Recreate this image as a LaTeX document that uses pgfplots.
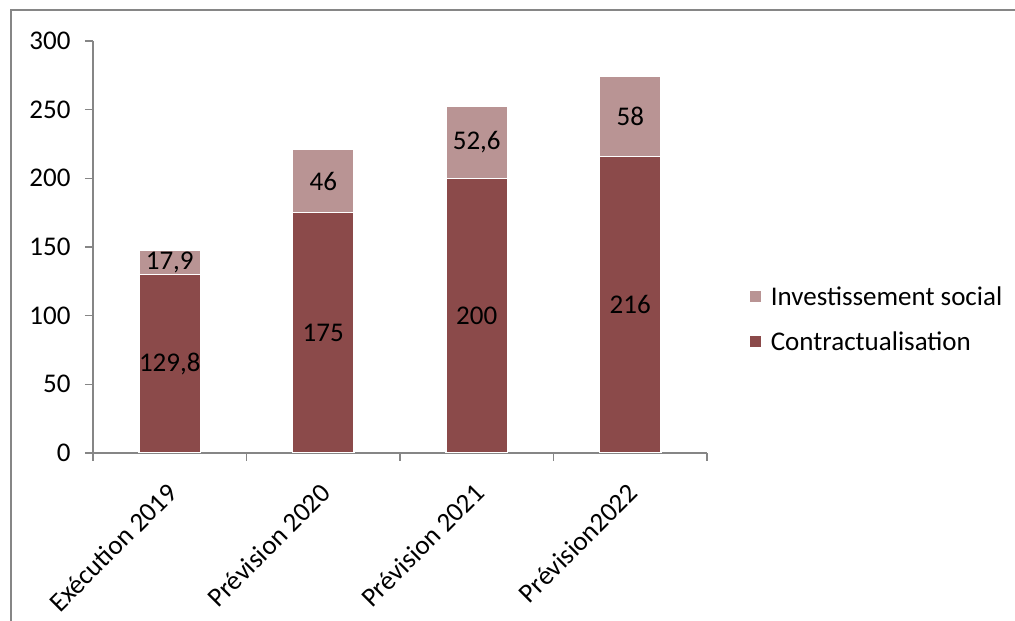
\documentclass[border=0pt]{standalone}
\usepackage{pgfplots}
\pgfplotsset{compat=1.18}
\usepackage{pgfplotstable}
\usepackage{fontspec}
\setmainfont{Carlito}
\definecolor{contr}{RGB}{139,74,74}
\definecolor{invest}{RGB}{185,148,148}
\definecolor{axgray}{RGB}{134,134,134}
\pgfplotstableread{
x contr invest
0 129.8 17.9
1 175 46
2 200 52.6
3 216 58
}\datatab
\pgfplotstableread{
x y lab
0 64.9 {129,8}
1 87.5 175
2 100 200
3 108 216
0 138.75 {17,9}
1 198 46
2 226.3 {52,6}
3 245 58
}\labtab
\begin{document}
\begin{tikzpicture}[x=1bp,y=1bp]
\useasboundingbox (0,0) rectangle (1015,621);
\draw[axgray, line width=2bp] (11,0) -- (11,611) -- (1020,611);
\begin{axis}[
  at={(93bp,168bp)}, anchor=south west,
  scale only axis, width=614bp, height=412bp,
  ybar stacked, bar width=0.4,
  xmin=-0.5, xmax=3.5, ymin=0, ymax=300,
  xtick={0,1,2,3},
  xticklabels={Exécution 2019, Prévision 2020, Prévision 2021, Prévision2022},
  minor xtick={-0.5,0.5,1.5,2.5,3.5},
  ytick={0,50,...,300},
  axis lines*=left,
  axis line style={axgray, line width=2bp},
  tick align=outside,
  major tick length=8bp, minor tick length=8bp,
  major x tick style={draw=none},
  minor x tick style={axgray, line width=1.5bp},
  major y tick style={axgray, line width=1.5bp},
  /pgf/number format/assume math mode=true,
  ticklabel style={font=\fontsize{27bp}{31bp}\selectfont, text=black},
  yticklabel style={xshift=-11bp},
  xticklabel style={rotate=45, anchor=east, xshift=-14bp, yshift=-21bp},
  reverse legend,
  legend style={draw=none, fill=none, at={(1.067,0.324)}, anchor=west,
    font=\fontsize{27bp}{31bp}\selectfont, row sep=21bp, inner sep=0pt},
  legend cell align=left,
  legend image code/.code={\path (0bp,0bp) -- (19bp,0bp); \fill[#1] (0bp,-6bp) rectangle (13bp,7bp);},
]
\addplot[fill=contr, draw=white, line width=1.5bp] table[x=x, y=contr] {\datatab};
\addlegendentry{Contractualisation}
\addplot[fill=invest, draw=white, line width=1.5bp] table[x=x, y=invest] {\datatab};
\addlegendentry{Investissement social}
\end{axis}
\begin{axis}[
  at={(93bp,168bp)}, anchor=south west,
  scale only axis, width=614bp, height=412bp,
  xmin=-0.5, xmax=3.5, ymin=0, ymax=300,
  hide axis,
]
\addplot[only marks, mark=none, draw=none, nodes near coords, point meta=explicit symbolic,
  every node near coord/.style={anchor=center, font=\fontsize{27bp}{31bp}\selectfont, text=black}]
  table[x=x, y=y, meta=lab] {\labtab};
\end{axis}
\end{tikzpicture}
\end{document}
